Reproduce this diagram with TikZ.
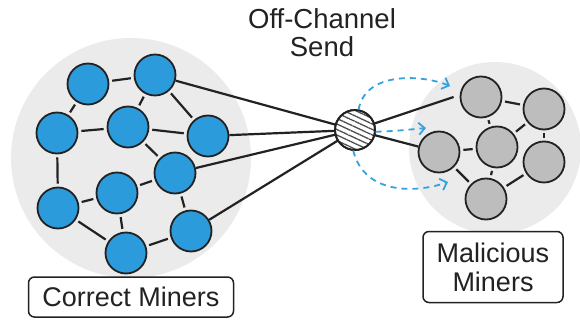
\documentclass[tikz,border=0pt]{standalone}
\usepackage{fontspec}
\setmainfont{Liberation Sans}
\usetikzlibrary{patterns.meta,arrows.meta}
\definecolor{minerblue}{HTML}{2B9BDB}
\definecolor{minergray}{HTML}{BDBDBD}
\definecolor{poolgray}{HTML}{EBEBEB}
\definecolor{inkdark}{HTML}{222222}
\definecolor{dashblue}{HTML}{35A2E0}
\tikzset{
  pool/.style={circle, fill=poolgray, draw=none},
  honest/.style={circle, minimum size=41pt, inner sep=0pt, fill=minerblue, draw=inkdark, line width=1.8pt},
  rogue/.style={circle, minimum size=41pt, inner sep=0pt, fill=minergray, draw=inkdark, line width=1.8pt},
  link/.style={draw=inkdark, line width=2.2pt, shorten <=3pt, shorten >=3pt},
  hublink/.style={draw=inkdark, line width=2.2pt},
  leak/.style={draw=dashblue, line width=1.8pt, dash pattern=on 6pt off 5pt,
    -{Straight Barb[length=6pt,width=12pt,line width=1.8pt]}},
  tag/.style={draw=inkdark, line width=1.5pt, rounded corners=6pt, fill=white,
    font=\fontsize{27}{29}\selectfont, align=center, text=inkdark},
}
\begin{document}
\begin{tikzpicture}[x=1pt,y=-1pt]
\useasboundingbox (0,0) rectangle (580,320);
% background pools
\node[pool, minimum size=240pt] (poolL) at (131,158) {};
\node[pool, minimum size=172pt] (poolR) at (495,148) {};

% correct miners
\node[honest] (c1) at (88,84) {};
\node[honest] (c2) at (155,75) {};
\node[honest] (c3) at (57,133) {};
\node[honest] (c4) at (128,127) {};
\node[honest] (c5) at (208,136) {};
\node[honest] (c6) at (175,173) {};
\node[honest] (c7) at (117,193) {};
\node[honest] (c8) at (58,208) {};
\node[honest] (c9) at (191,231) {};
\node[honest] (c10) at (126,253) {};

% malicious miners
\node[rogue] (m1) at (481,97) {};
\node[rogue] (m2) at (544,109) {};
\node[rogue] (m3) at (439,152) {};
\node[rogue] (m4) at (497,147) {};
\node[rogue] (m5) at (544,162) {};
\node[rogue] (m6) at (486,199) {};

% hatched relay
\node[circle, minimum size=40pt, inner sep=0pt, fill=white, draw=inkdark, line width=1.8pt,
  pattern={Lines[angle=-25,distance=5pt,line width=1.3pt]}, pattern color=inkdark!80] (hub) at (355,130) {};
\node[circle, minimum size=40pt, inner sep=0pt, draw=inkdark, line width=1.8pt] at (hub) {};

% links among correct miners
\foreach \a/\b in {c1/c2,c1/c3,c2/c4,c2/c5,c3/c4,c4/c5,c4/c6,c3/c8,c8/c7,c7/c6,c7/c10,c8/c10,c6/c9,c9/c10}
  \draw[link] (\a) -- (\b);
% links among malicious miners
\foreach \a/\b in {m1/m4,m1/m2,m2/m4,m2/m5,m3/m4,m3/m6,m4/m6,m5/m6}
  \draw[link] (\a) -- (\b);

% links to the relay
\foreach \a in {c2,c5,c6,c9}
  \draw[hublink] (\a) -- (hub);
\draw[hublink] (hub) -- ([xshift=-6pt]m1.west);
\draw[hublink] (hub) -- (m3);

% off-channel sends
\coordinate (t1) at (450,86);
\coordinate (t2) at (426,128);
\coordinate (t3) at (448,182);
\draw[leak] (hub.80) .. controls (365,72) and (420,74) .. (t1);
\draw[leak] (hub.-5) .. controls (395,131) .. (t2);
\draw[leak] (hub.-95) .. controls (365,197) and (420,192) .. (t3);

% labels
\node[font=\fontsize{27.5}{28}\selectfont, align=center, text=inkdark] (title) at (322,33) {Off-Channel\\Send};
\node[tag, minimum width=205pt, minimum height=40pt] (lblC) at (131,297) {Correct Miners};
\node[tag, minimum width=140pt, minimum height=71pt] (lblM) at (493,267) {Malicious\\Miners};
\end{tikzpicture}
\end{document}
